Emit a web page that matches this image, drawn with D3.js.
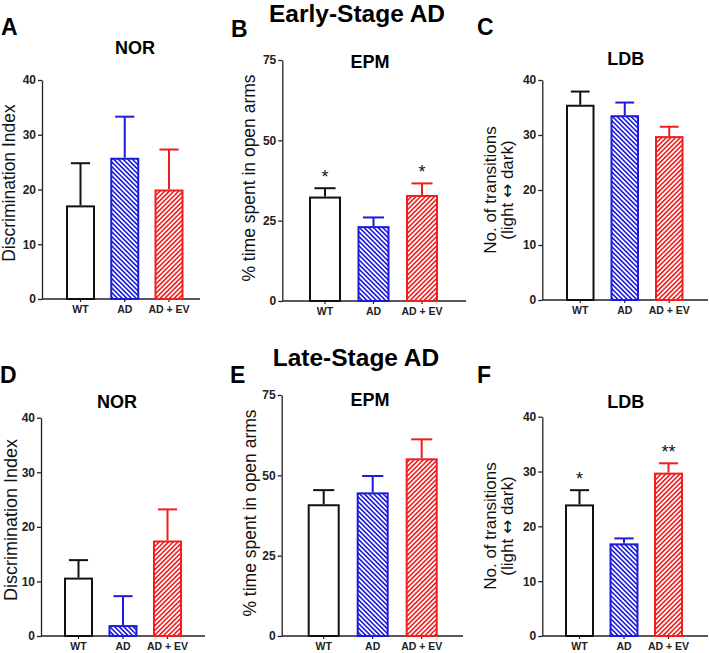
<!DOCTYPE html>
<html><head><meta charset="utf-8">
<script src="https://cdn.jsdelivr.net/npm/d3@7"></script>
<style>
html,body{margin:0;padding:0;background:#fff;}
svg{display:block;font-family:"Liberation Sans",Arial,sans-serif;}
</style></head>
<body>
<svg id="chart" width="709" height="653"></svg>
<script>
// ---------- data ----------
const categories = ["WT", "AD", "AD + EV"];
const norEarlyMean = [17.1, 25.8, 20.0];
const norEarlySem  = [7.7, 7.5, 7.3];
const epmEarlyMean = [32.5, 23.3, 33.0];
const epmEarlySem  = [2.6, 2.7, 3.6];
const epmEarlySig  = ["*", "", "*"];
const ldbEarlyMean = [35.5, 33.6, 29.8];
const ldbEarlySem  = [2.4, 2.3, 1.7];
const norLateMean  = [10.7, 2.0, 17.5];
const norLateSem   = [3.2, 5.3, 5.7];
const epmLateMean  = [41.0, 44.7, 55.3];
const epmLateSem   = [4.4, 5.1, 5.9];
const ldbLateMean  = [24.0, 16.9, 29.8];
const ldbLateSem   = [2.6, 0.9, 1.7];
const ldbLateSig   = ["*", "", "**"];
const norTicks = [0, 10, 20, 30, 40];
const epmTicks = [0, 25, 50, 75];
const ldbTicks = [0, 10, 20, 30, 40];
const noSig = ["", "", ""];

// ---------- styling ----------
const colors = ["#111111", "#1c1cd8", "#f01e1e"];
const fills = ["#ffffff", "url(#hatchBlue)", "url(#hatchRed)"];
const axisColor = "#222";

const svg = d3.select("#chart");
const defs = svg.append("defs");
function hatch(id, color, angle) {
  const w = 3.3;
  const p = defs.append("pattern").attr("id", id)
    .attr("patternUnits", "userSpaceOnUse")
    .attr("width", w).attr("height", w)
    .attr("patternTransform", `rotate(${angle})`);
  p.append("rect").attr("width", w).attr("height", w).attr("fill", "#fff");
  p.append("line").attr("x1", 0.8).attr("y1", -1).attr("x2", 0.8).attr("y2", 5)
    .attr("stroke", color).attr("stroke-width", 1.6);
}
hatch("hatchBlue", colors[1], -45);
hatch("hatchRed", colors[2], 45);

// ---------- panel layouts ----------
const panels = [
  {letter:"A", title:"NOR", mean:norEarlyMean, sem:norEarlySem, sig:noSig, max:40, ticks:norTicks,
   ax:42, xEnd:200, yTop:80, yBot:299, barStart:66, step:44.25, barW:29,
   label:["Discrimination Index"], labelX:[15], labelY:183, labelSize:17.5,
   lx:1, ly:35, tx:135, ty:53.5},
  {letter:"B", title:"EPM", mean:epmEarlyMean, sem:epmEarlySem, sig:epmEarlySig, max:75, ticks:epmTicks,
   ax:282.3, xEnd:466, yTop:60, yBot:301, barStart:309, step:48.5, barW:32,
   label:["% time spent in open arms"], labelX:[255], labelY:178, labelSize:17.5,
   lx:231, ly:36.5, tx:370, ty:68},
  {letter:"C", title:"LDB", mean:ldbEarlyMean, sem:ldbEarlySem, sig:noSig, max:40, ticks:ldbTicks,
   ax:542.3, xEnd:708, yTop:80, yBot:300, barStart:566, step:44.5, barW:28.5,
   label:["No. of transitions", "(light \u2194 dark)"], labelX:[496, 513], labelY:190, labelSize:17,
   lx:477, ly:35, tx:625.8, ty:65},
  {letter:"D", title:"NOR", mean:norLateMean, sem:norLateSem, sig:noSig, max:40, ticks:norTicks,
   ax:41, xEnd:205, yTop:417.7, yBot:636, barStart:64, step:44.5, barW:29,
   label:["Discrimination Index"], labelX:[17], labelY:520, labelSize:18,
   lx:0, ly:383, tx:117, ty:408},
  {letter:"E", title:"EPM", mean:epmLateMean, sem:epmLateSem, sig:noSig, max:75, ticks:epmTicks,
   ax:281.7, xEnd:463, yTop:395, yBot:636, barStart:307.7, step:49, barW:32,
   label:["% time spent in open arms"], labelX:[256], labelY:513, labelSize:17.5,
   lx:230, ly:383, tx:370, ty:406},
  {letter:"F", title:"LDB", mean:ldbLateMean, sem:ldbLateSem, sig:ldbLateSig, max:40, ticks:ldbTicks,
   ax:542.3, xEnd:708, yTop:416.7, yBot:636, barStart:565, step:44.5, barW:29,
   label:["No. of transitions", "(light \u2194 dark)"], labelX:[496, 513], labelY:526, labelSize:17,
   lx:477, ly:383, tx:625.8, ty:408}
];

// big titles
svg.append("text").attr("x", 357).attr("y", 22).attr("text-anchor", "middle")
  .attr("font-size", 24.5).attr("font-weight", "bold").attr("fill", "#000").text("Early-Stage AD");
svg.append("text").attr("x", 356).attr("y", 366).attr("text-anchor", "middle")
  .attr("font-size", 24.5).attr("font-weight", "bold").attr("fill", "#000").text("Late-Stage AD");

panels.forEach(p => {
  const g = svg.append("g");
  const pi = 1 - p.barW / p.step;
  const po = (p.barStart - p.ax) / p.step;
  const r1 = p.ax + p.step * (categories.length - pi + 2 * po);
  const x = d3.scaleBand().domain(categories).range([p.ax, r1]).paddingInner(pi).paddingOuter(po);
  const y = d3.scaleLinear().domain([0, p.max]).range([p.yBot, p.yTop]);

  // letter & title
  g.append("text").attr("x", p.lx).attr("y", p.ly).attr("font-size", 23).attr("font-weight", "bold")
    .attr("fill", "#000").text(p.letter);
  g.append("text").attr("x", p.tx).attr("y", p.ty).attr("text-anchor", "middle")
    .attr("font-size", 18).attr("font-weight", "bold").attr("fill", "#000").text(p.title);

  // y axis
  const ya = g.append("g").attr("transform", `translate(${p.ax},0)`)
    .call(d3.axisLeft(y).tickValues(p.ticks).tickSize(4).tickSizeOuter(0).tickPadding(2));
  ya.select(".domain").attr("stroke", axisColor).attr("stroke-width", 1.3);
  ya.selectAll(".tick line").attr("stroke", axisColor).attr("stroke-width", 1.3);
  ya.selectAll(".tick text").attr("font-size", 12).attr("font-weight", "bold").attr("fill", "#222")
    .attr("font-family", "Liberation Sans, Arial, sans-serif");

  // x axis
  const xa = g.append("g").attr("transform", `translate(0,${p.yBot})`)
    .call(d3.axisBottom(x).tickSize(3).tickSizeOuter(0).tickPadding(4));
  xa.select(".domain").attr("d", `M${p.ax},0H${p.xEnd}`).attr("stroke", axisColor).attr("stroke-width", 1.3);
  xa.selectAll(".tick line").attr("stroke", axisColor).attr("stroke-width", 1.2);
  xa.selectAll(".tick text").attr("font-size", 10.5).attr("font-weight", "bold").attr("fill", "#222")
    .attr("font-family", "Liberation Sans, Arial, sans-serif").attr("dy", "0.71em");

  // y label
  p.label.forEach((t, i) => {
    const tx = g.append("text").attr("transform", `translate(${p.labelX[i]},${p.labelY}) rotate(-90)`)
      .attr("text-anchor", "middle").attr("font-size", p.labelSize).attr("fill", "#111");
    const parts = t.split("\u2194");
    if (parts.length > 1) {
      tx.append("tspan").text(parts[0]);
      tx.append("tspan").attr("font-family", "DejaVu Sans").text("\u2194");
      tx.append("tspan").text(parts[1]);
    } else {
      tx.text(t);
    }
  });

  const rows = categories.map((c, i) => ({c, i, m: p.mean[i], s: p.sem[i], sig: p.sig[i]}));
  // error bars
  const eb = g.selectAll(".eb").data(rows).enter().append("g");
  eb.append("line").attr("x1", d => x(d.c) + x.bandwidth() / 2).attr("x2", d => x(d.c) + x.bandwidth() / 2)
    .attr("y1", d => y(d.m)).attr("y2", d => y(d.m + d.s))
    .attr("stroke", d => colors[d.i]).attr("stroke-width", 2);
  eb.append("line").attr("x1", d => x(d.c) + x.bandwidth() * 0.17).attr("x2", d => x(d.c) + x.bandwidth() * 0.83)
    .attr("y1", d => y(d.m + d.s)).attr("y2", d => y(d.m + d.s))
    .attr("stroke", d => colors[d.i]).attr("stroke-width", 2);
  // bars
  g.selectAll(".bar").data(rows).enter().append("rect")
    .attr("x", d => x(d.c) + 1).attr("width", x.bandwidth() - 2)
    .attr("y", d => y(d.m) + 1).attr("height", d => y(0) - y(d.m) - 1)
    .attr("fill", d => fills[d.i]).attr("stroke", d => colors[d.i]).attr("stroke-width", 2);
  // significance
  g.selectAll(".sig").data(rows.filter(d => d.sig)).enter().append("text")
    .attr("x", d => x(d.c) + x.bandwidth() / 2).attr("y", d => y(d.m + d.s) - 5)
    .attr("text-anchor", "middle").attr("font-size", 18).attr("fill", "#111").text(d => d.sig);
});
</script>
</body></html>
